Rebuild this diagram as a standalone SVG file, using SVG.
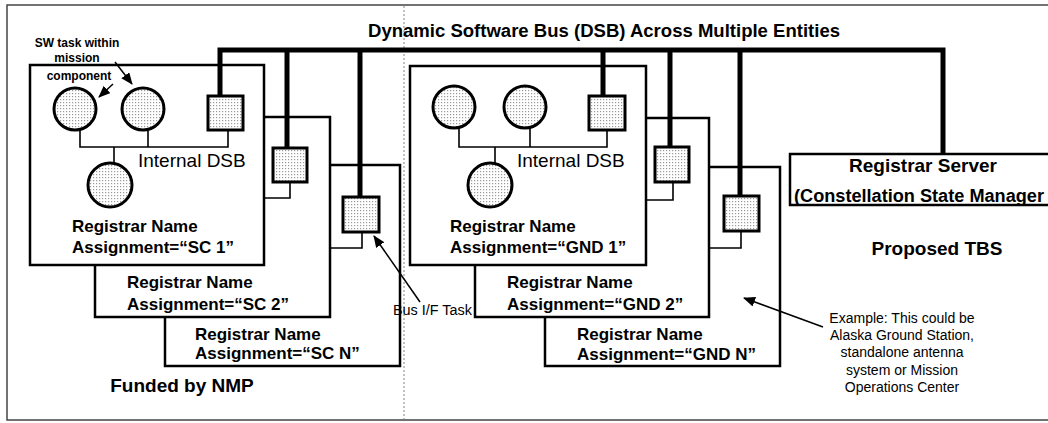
<svg xmlns="http://www.w3.org/2000/svg" width="1048" height="423" viewBox="0 0 1048 423">
<style>
text{font-family:"Liberation Sans",Arial,sans-serif;fill:#000}
.b{font-weight:bold}
.box{fill:#fff;stroke:#000;stroke-width:2.5}
.circ{fill:url(#dots);stroke:#000;stroke-width:3}
.sq{fill:url(#dots);stroke:#000;stroke-width:3}
.ln{fill:none;stroke:#000;stroke-width:1.6}
.bus{fill:none;stroke:#000;stroke-width:5}
.frame{fill:none;stroke:#444;stroke-width:1.5}
.div{fill:none;stroke:#999;stroke-width:1.2;stroke-dasharray:2 2}
.arr{fill:none;stroke:#000;stroke-width:1.5;marker-end:url(#ah)}
.reg{font-size:17px;font-weight:bold}
</style>
<defs>
<pattern id="dots" width="3" height="3" patternUnits="userSpaceOnUse"><rect width="3" height="3" fill="#fff"/><rect width="1.2" height="1.2" fill="#999"/></pattern>
<marker id="ah" markerUnits="userSpaceOnUse" markerWidth="12" markerHeight="10" refX="11" refY="5" orient="auto"><path d="M0,0 L12,5 L0,10 z" fill="#000"/></marker>
</defs>
<rect width="1048" height="423" fill="#fff"/>
<path class="frame" d="M1048,5 H7 V420 H1048"/>
<line class="div" x1="404" y1="6" x2="404" y2="419"/>
<text class="b" x="368" y="37" font-size="18" textLength="472" lengthAdjust="spacingAndGlyphs">Dynamic Software Bus (DSB) Across Multiple Entities</text>

<g id="sc-n">
<rect class="box" x="165" y="165" width="235" height="201"/>
<rect class="sq" x="343" y="197" width="36" height="35"/>
<path class="ln" d="M362,232 V248 H330"/>
<text class="reg" x="195" y="340">Registrar Name</text>
<text class="reg" x="195" y="359">Assignment=“SC N”</text>
</g>
<g id="sc-2">
<rect class="box" x="95" y="117" width="235" height="200"/>
<rect class="sq" x="273" y="148" width="34" height="34"/>
<path class="ln" d="M290,182 V198 H264"/>
<text class="reg" x="127" y="288">Registrar Name</text>
<text class="reg" x="127" y="310">Assignment=“SC 2”</text>
</g>
<g id="sc-1">
<rect class="box" x="30" y="65" width="234" height="200"/>
<path class="ln" d="M80,130 V147 H228 V130 M148,130 V147 M114,147 V164"/>
<circle class="circ" cx="75" cy="109" r="21"/>
<circle class="circ" cx="143" cy="109" r="21"/>
<circle class="circ" cx="110" cy="185" r="22"/>
<rect class="sq" x="208" y="96" width="35" height="34"/>
<text x="138" y="167" font-size="19">Internal DSB</text>
<text class="reg" x="72" y="232">Registrar Name</text>
<text class="reg" x="72" y="253">Assignment=“SC 1”</text>
</g>

<g id="gnd-n">
<rect class="box" x="545" y="167" width="235" height="199"/>
<rect class="sq" x="724" y="196" width="35" height="35"/>
<path class="ln" d="M741,231 V248 H709"/>
<text class="reg" x="577" y="340">Registrar Name</text>
<text class="reg" x="577" y="360">Assignment=“GND N”</text>
</g>
<g id="gnd-2">
<rect class="box" x="475" y="118" width="234" height="199"/>
<rect class="sq" x="655" y="147" width="34" height="35"/>
<path class="ln" d="M673,182 V200 H646"/>
<text class="reg" x="507" y="288">Registrar Name</text>
<text class="reg" x="507" y="310">Assignment=“GND 2”</text>
</g>
<g id="gnd-1">
<rect class="box" x="410" y="66" width="236" height="199"/>
<path class="ln" d="M459,128 V147 H607 V130 M530,128 V147 M495,147 V164"/>
<circle class="circ" cx="454" cy="107" r="21"/>
<circle class="circ" cx="525" cy="107" r="21"/>
<circle class="circ" cx="490" cy="185" r="22"/>
<rect class="sq" x="589" y="96" width="36" height="34"/>
<text x="517" y="167" font-size="19">Internal DSB</text>
<text class="reg" x="450" y="232">Registrar Name</text>
<text class="reg" x="450" y="253">Assignment=“GND 1”</text>
</g>

<g id="registrar-server">
<rect class="box" x="790" y="154" width="270" height="51"/>
<text class="b" x="923" y="172" font-size="19" text-anchor="middle">Registrar Server</text>
<text class="b" x="794" y="202" font-size="18" textLength="250" lengthAdjust="spacingAndGlyphs">(Constellation State Manager</text>
</g>

<g id="connectors">
<path class="bus" d="M220,96 V50 H943 V154"/>
<path class="bus" d="M287,50 V148 M360,50 V197 M603,50 V96 M670,50 V147 M740,50 V196"/>
<line class="arr" x1="115" y1="62" x2="132" y2="84"/>
<line class="arr" x1="113" y1="84" x2="99" y2="97"/>
<line class="arr" x1="420" y1="302" x2="374" y2="236"/>
<line class="arr" x1="823" y1="327" x2="744" y2="298"/>
</g>

<g id="labels">
<text class="b" x="77" y="47" font-size="12" text-anchor="middle" fill="#333">SW task within</text>
<text class="b" x="77" y="62" font-size="12" text-anchor="middle" fill="#333">mission</text>
<text class="b" x="79" y="80" font-size="12" text-anchor="middle" fill="#333">component</text>
<text x="393" y="315" font-size="14" textLength="79" lengthAdjust="spacingAndGlyphs">Bus I/F Task</text>
<text class="b" x="937" y="255" font-size="19" text-anchor="middle">Proposed TBS</text>
<text class="b" x="182" y="392" font-size="19" text-anchor="middle">Funded by NMP</text>
<g font-size="14" text-anchor="middle">
<text x="902" y="323">Example:  This could be</text>
<text x="902" y="340">Alaska Ground Station,</text>
<text x="902" y="357">standalone antenna</text>
<text x="902" y="375">system or Mission</text>
<text x="902" y="392">Operations Center</text>
</g>
</g>
</svg>
